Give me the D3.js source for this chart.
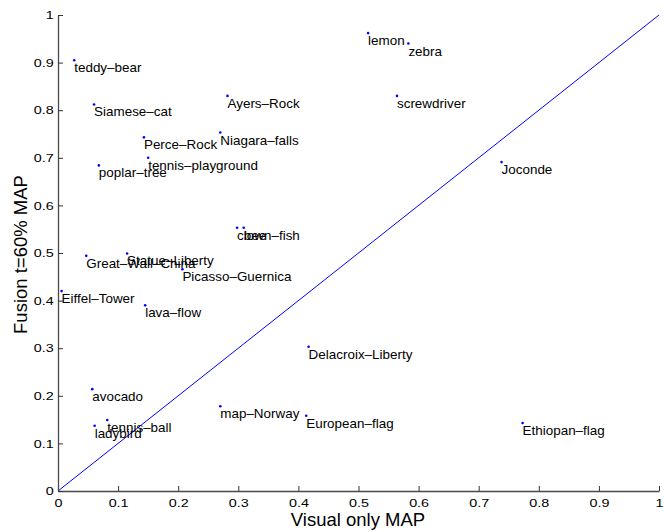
<!DOCTYPE html>
<html>
<head>
<meta charset="utf-8">
<script src="https://cdn.jsdelivr.net/npm/d3@7"></script>
<style>
  body { margin: 0; background: #fff; }
  svg { display: block; }
</style>
</head>
<body>
<div id="chart"></div>
<script>
// image classes and their MAP values
const names = ['teddy–bear', 'Siamese–cat', 'Perce–Rock', 'Ayers–Rock', 'Niagara–falls',
  'lemon', 'zebra', 'screwdriver', 'Joconde', 'poplar–tree', 'tennis–playground',
  'Great–Wall–China', 'Statue–Liberty', 'Picasso–Guernica', 'Eiffel–Tower',
  'clown–fish', 'bee', 'lava–flow', 'avocado', 'ladybird', 'tennis–ball',
  'Delacroix–Liberty', 'European–flag', 'Ethiopan–flag', 'map–Norway'];
const visualMAP = [0.027, 0.060, 0.143, 0.282, 0.270,
  0.516, 0.583, 0.564, 0.738, 0.068, 0.150,
  0.047, 0.115, 0.207, 0.006,
  0.298, 0.309, 0.145, 0.057, 0.061, 0.082,
  0.417, 0.413, 0.773, 0.270];
const fusionMAP = [0.905, 0.812, 0.743, 0.830, 0.753,
  0.962, 0.940, 0.830, 0.691, 0.684, 0.700,
  0.494, 0.499, 0.466, 0.420,
  0.553, 0.553, 0.390, 0.214, 0.137, 0.149,
  0.303, 0.158, 0.143, 0.178];
const ticks = [0, 0.1, 0.2, 0.3, 0.4, 0.5, 0.6, 0.7, 0.8, 0.9, 1];
const diag = [0, 1];

const width = 664, height = 532;
const svg = d3.select('#chart').append('svg')
  .attr('width', width)
  .attr('height', height);

const x = d3.scaleLinear().domain([0, 1]).range([58, 659]);
const y = d3.scaleLinear().domain([0, 1]).range([491, 15]);

const font = 'Liberation Sans, Arial, Helvetica, sans-serif';

// diagonal y = x
svg.append('line')
  .attr('x1', x(diag[0])).attr('y1', y(diag[0]))
  .attr('x2', x(diag[1])).attr('y2', y(diag[1]))
  .attr('stroke', '#0000ff')
  .attr('stroke-width', 1);

// axes
const xAxis = svg.append('g')
  .attr('transform', `translate(0,${y(0)})`)
  .call(d3.axisBottom(x).tickValues(ticks).tickFormat(d3.format('~g'))
    .tickSizeInner(-5).tickSizeOuter(0).tickPadding(8));
const yAxis = svg.append('g')
  .attr('transform', `translate(${x(0)},0)`)
  .call(d3.axisLeft(y).tickValues(ticks).tickFormat(d3.format('~g'))
    .tickSizeInner(-5).tickSizeOuter(0).tickPadding(3.5));

[xAxis, yAxis].forEach(ax => {
  ax.select('.domain').attr('stroke', '#4a4a4a').attr('stroke-width', 1.3);
  ax.selectAll('.tick line').attr('stroke', '#333');
  ax.selectAll('.tick text')
    .attr('fill', '#000')
    .attr('font-family', font)
    .attr('font-size', 11.5)
    .attr('transform', 'scale(1.25,1)');
});

// data points
const pts = names.map((n, i) => ({ name: n, vx: visualMAP[i], fy: fusionMAP[i] }));

svg.append('g')
  .selectAll('circle')
  .data(pts)
  .join('circle')
  .attr('cx', d => x(d.vx))
  .attr('cy', d => y(d.fy))
  .attr('r', 1.3)
  .attr('fill', '#0000ff');

svg.append('g')
  .selectAll('text')
  .data(pts)
  .join('text')
  .text(d => d.name)
  .attr('transform', d => `translate(${x(d.vx)},${y(d.fy) + 12}) scale(1.12,1)`)
  .attr('font-family', font)
  .attr('font-size', 12)
  .attr('fill', '#000');

// axis titles
svg.append('text')
  .text('Visual only MAP')
  .attr('x', 358)
  .attr('y', 526)
  .attr('text-anchor', 'middle')
  .attr('font-family', font)
  .attr('font-size', 18.5)
  .attr('fill', '#000');

svg.append('text')
  .text('Fusion t=60% MAP')
  .attr('transform', 'translate(26.5,254.5) rotate(-90)')
  .attr('text-anchor', 'middle')
  .attr('font-family', font)
  .attr('font-size', 18.5)
  .attr('fill', '#000');
</script>
</body>
</html>
